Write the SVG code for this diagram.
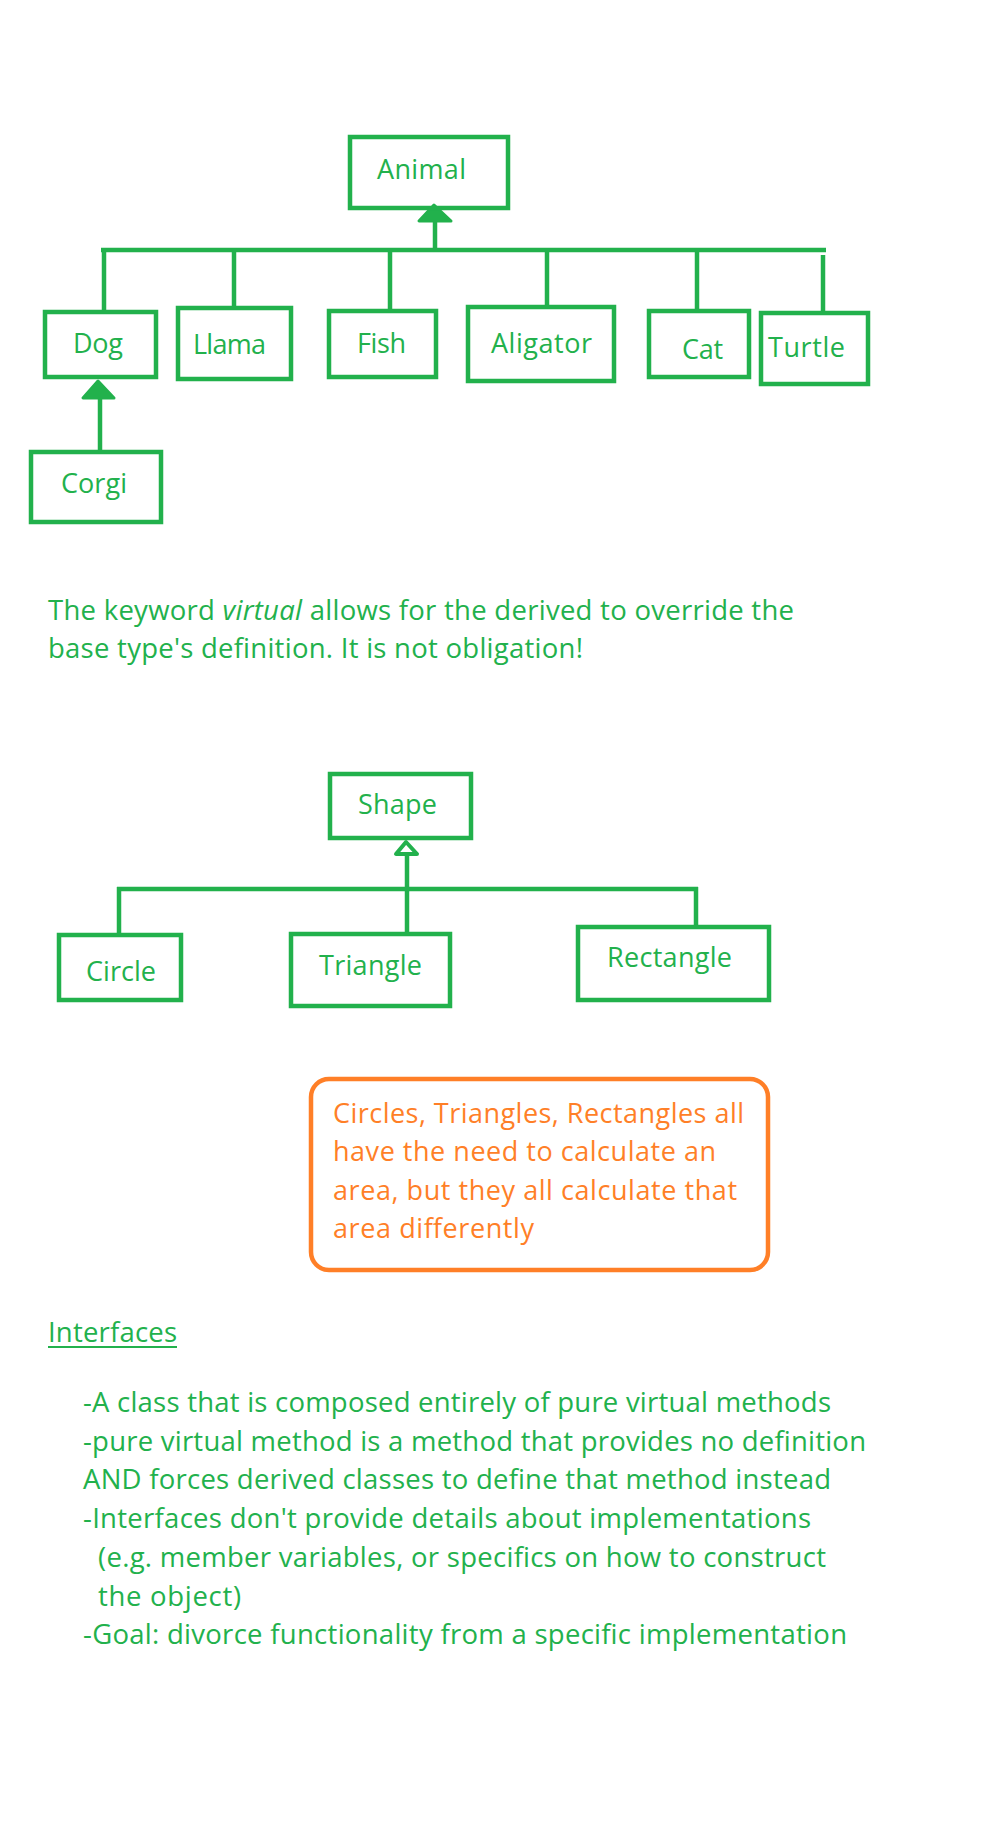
<svg xmlns="http://www.w3.org/2000/svg" width="992" height="1848" viewBox="0 0 992 1848">
<style>
.box{fill:none;stroke:#22B14C;stroke-width:4.5}
.lbl{font-family:"Open Sans","Noto Sans",sans-serif;font-size:27px;fill:#22B14C}
.txt{font-family:"Open Sans","Noto Sans",sans-serif;font-size:27.5px;fill:#22B14C}
.otxt{font-family:"Open Sans","Noto Sans",sans-serif;font-size:27px;fill:#FF7F27}
.ln{fill:none;stroke:#22B14C;stroke-width:4.5;stroke-linecap:butt}
.head{fill:#22B14C;stroke:#22B14C;stroke-width:3;stroke-linejoin:round}
.hhead{fill:#fff;stroke:#22B14C;stroke-width:4;stroke-linejoin:round}
</style>
<rect width="992" height="1848" fill="#fff"/>
<g id="connectors">
  <line class="ln" x1="435" y1="220" x2="435" y2="252"/>
  <line class="ln" x1="101" y1="250" x2="826" y2="250"/>
  <line class="ln" x1="104" y1="248" x2="104" y2="311"/>
  <line class="ln" x1="234" y1="248" x2="234" y2="306"/>
  <line class="ln" x1="390" y1="248" x2="390" y2="310"/>
  <line class="ln" x1="547" y1="248" x2="547" y2="306"/>
  <line class="ln" x1="697" y1="248" x2="697" y2="310"/>
  <line class="ln" x1="823" y1="255" x2="823" y2="312"/>
  <polygon class="head" points="434,205 419,221 451,221"/>
  <line class="ln" x1="100" y1="396" x2="100" y2="451"/>
  <polygon class="head" points="98,381 83,398 114,398"/>
  <line class="ln" x1="407" y1="852" x2="407" y2="933"/>
  <line class="ln" x1="117" y1="889" x2="698" y2="889"/>
  <line class="ln" x1="119" y1="887" x2="119" y2="934"/>
  <line class="ln" x1="696" y1="887" x2="696" y2="926"/>
  <polygon class="hhead" points="406,842 396,854 417,854"/>
</g>
<g id="animal"><rect class="box" x="350" y="137" width="158" height="71"/><text class="lbl" x="377" y="179" textLength="89">Animal</text></g>
<g id="dog"><rect class="box" x="45" y="312" width="111" height="65"/><text class="lbl" x="73" y="353" textLength="50">Dog</text></g>
<g id="llama"><rect class="box" x="178" y="308" width="113" height="71"/><text class="lbl" x="193" y="354" textLength="73">Llama</text></g>
<g id="fish"><rect class="box" x="329" y="311" width="107" height="66"/><text class="lbl" x="357" y="353" textLength="49">Fish</text></g>
<g id="aligator"><rect class="box" x="468" y="307" width="146" height="74"/><text class="lbl" x="491" y="353" textLength="101">Aligator</text></g>
<g id="cat"><rect class="box" x="649" y="311" width="100" height="66"/><text class="lbl" x="682" y="359" textLength="41">Cat</text></g>
<g id="turtle"><rect class="box" x="761" y="313" width="107" height="71"/><text class="lbl" x="768" y="357" textLength="77">Turtle</text></g>
<g id="corgi"><rect class="box" x="31" y="452" width="130" height="70"/><text class="lbl" x="61" y="493" textLength="66">Corgi</text></g>
<g id="virtual-note">
  <text class="txt" x="48" y="620" textLength="746">The keyword <tspan font-style="italic">virtual</tspan> allows for the derived to override the</text>
  <text class="txt" x="48" y="658" textLength="535">base type's definition. It is not obligation!</text>
</g>
<g id="shape"><rect class="box" x="330" y="774" width="141" height="64"/><text class="lbl" x="358" y="814" textLength="79">Shape</text></g>
<g id="circle"><rect class="box" x="59" y="935" width="122" height="65"/><text class="lbl" x="86" y="981" textLength="70">Circle</text></g>
<g id="triangle"><rect class="box" x="291" y="934" width="159" height="72"/><text class="lbl" x="319" y="975" textLength="103">Triangle</text></g>
<g id="rectangle"><rect class="box" x="578" y="927" width="191" height="73"/><text class="lbl" x="607" y="967" textLength="125">Rectangle</text></g>
<g id="area-note">
  <rect x="311" y="1079" width="457" height="191" rx="18" fill="none" stroke="#FF7F27" stroke-width="4.5"/>
  <text class="otxt" x="333" y="1123" textLength="411">Circles, Triangles, Rectangles all</text>
  <text class="otxt" x="333" y="1161" textLength="383">have the need to calculate an</text>
  <text class="otxt" x="333" y="1200" textLength="404">area, but they all calculate that</text>
  <text class="otxt" x="333" y="1238" textLength="201">area differently</text>
</g>
<g id="interfaces">
  <text class="txt" x="48" y="1342" textLength="129">Interfaces</text>
  <line x1="48" y1="1347" x2="177" y2="1347" stroke="#22B14C" stroke-width="2"/>
  <text class="txt" x="83" y="1412" textLength="748">-A class that is composed entirely of pure virtual methods</text>
  <text class="txt" x="83" y="1451" textLength="783">-pure virtual method is a method that provides no definition</text>
  <text class="txt" x="83" y="1489" textLength="748">AND forces derived classes to define that method instead</text>
  <text class="txt" x="83" y="1528" textLength="728">-Interfaces don't provide details about implementations</text>
  <text class="txt" x="98" y="1567" textLength="728">(e.g. member variables, or specifics on how to construct</text>
  <text class="txt" x="98" y="1606" textLength="143">the object)</text>
  <text class="txt" x="83" y="1644" textLength="764">-Goal: divorce functionality from a specific implementation</text>
</g>
</svg>
